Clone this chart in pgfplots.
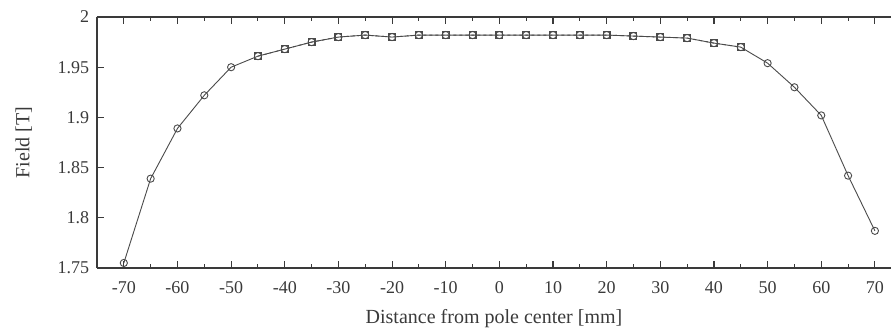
\documentclass[border=0pt]{standalone}
\usepackage{fontspec}
\setmainfont{Liberation Serif}
\usepackage{pgfplots}
\pgfplotsset{compat=1.18}
\definecolor{ink}{HTML}{3A3A3A}
\definecolor{ln}{HTML}{4A4A4A}
\pgfplotstableread{
x y
-70 1.755
-65 1.839
-60 1.889
-55 1.922
-50 1.950
-45 1.961
-40 1.968
-35 1.975
-30 1.980
-25 1.982
-20 1.980
-15 1.982
-10 1.982
-5 1.982
0 1.982
5 1.982
10 1.982
15 1.982
20 1.982
25 1.981
30 1.980
35 1.979
40 1.974
45 1.970
50 1.954
55 1.930
60 1.902
65 1.842
70 1.787
}\fieldA
\pgfplotstableread{
x y
-45 1.961
-40 1.968
-35 1.975
-30 1.980
-25 1.982
-20 1.980
-15 1.982
-10 1.982
-5 1.982
0 1.982
5 1.982
10 1.982
15 1.982
20 1.982
25 1.981
30 1.980
35 1.979
40 1.974
45 1.970
}\fieldB
\begin{document}
\begin{tikzpicture}
\fontsize{17}{20}\selectfont
\begin{axis}[
  scale only axis,
  width=794pt, height=251pt,
  xmin=-75, xmax=73,
  ymin=1.75, ymax=2,
  axis y line*=left,
  xtick={-70,-60,...,70},
  minor x tick num=1,
  ytick={1.75,1.8,1.85,1.9,1.95,2},
  yticklabels={1.75,1.8,1.85,1.9,1.95,2},
  tick align=inside,
  major tick length=7pt,
  minor tick length=4pt,
  axis line style={ink, line width=1.3pt},
  every tick/.style={ink, line width=1.1pt},
  tick label style={font=\fontsize{18}{21}\selectfont, text=ink},
  /pgf/number format/assume math mode=true,
  xticklabel style={yshift=-8pt},
  yticklabel style={xshift=-2pt},
  xlabel={Distance from pole center [mm]},
  ylabel={Field [T]},
  label style={font=\fontsize{20}{23}\selectfont, text=ink},
  xlabel style={yshift=-4pt},
  ylabel style={yshift=14pt},
  clip=false,
]
\addplot[ln, line width=0.9pt, mark=o, mark size=3.6pt, mark options={solid, line width=0.9pt}] table {\fieldA};
\addplot[ln, dashed, line width=0.9pt, mark=square, mark size=3.4pt, mark options={solid, line width=1.2pt}] table {\fieldB};
\coordinate (sw) at (rel axis cs:0,0);
\coordinate (ne) at (rel axis cs:1,1);
\end{axis}
\pgfresetboundingbox
\path ([shift={(-97pt,-60pt)}]sw) rectangle ([shift={(0pt,17pt)}]ne);
\end{tikzpicture}
\end{document}
